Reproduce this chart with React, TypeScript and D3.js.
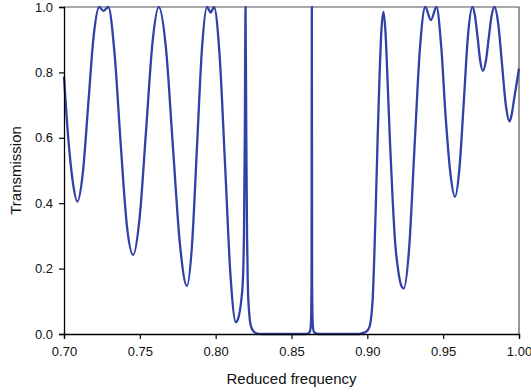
import React, { useEffect, useRef } from 'react'
import * as d3 from 'd3'

// reduced frequency (x) and transmission (y)
const freq = [
  0.7000, 0.7028, 0.7058, 0.7088,
  0.7124, 0.7160, 0.7196, 0.7232, 0.7259, 0.7292,
  0.7333, 0.7374, 0.7415, 0.7456,
  0.7498, 0.7541, 0.7583, 0.7625,
  0.7672, 0.7718, 0.7765, 0.7811,
  0.7844, 0.7877, 0.7910, 0.7943, 0.7967, 0.7989,
  0.8025, 0.8062, 0.8098, 0.8134,
  0.8150, 0.8169, 0.8180, 0.8187, 0.8192, 0.8197, 0.8202, 0.8207, 0.8212, 0.8220, 0.8235, 0.8260, 0.8300,
  0.8500, 0.8600, 0.8620, 0.8628, 0.8632, 0.8634, 0.8636, 0.8640, 0.8648, 0.8680,
  0.8950, 0.8960, 0.8990, 0.9013, 0.9025, 0.9035, 0.9046, 0.9057, 0.9068, 0.9079, 0.9093, 0.9107,
  0.9120, 0.9134, 0.9150, 0.9167, 0.9185, 0.9205, 0.9222, 0.9240,
  0.9276, 0.9311, 0.9347, 0.9382, 0.9419, 0.9456,
  0.9487, 0.9517, 0.9548, 0.9578,
  0.9607, 0.9636, 0.9664, 0.9693,
  0.9710, 0.9728, 0.9745, 0.9762,
  0.9781, 0.9800, 0.9819, 0.9838,
  0.9863, 0.9888, 0.9913, 0.9938,
  0.9952, 0.9967, 1.0000,
]
const transmission = [
  0.787, 0.600, 0.465, 0.405,
  0.492, 0.703, 0.913, 1.000, 0.988, 1.000,
  0.860, 0.580, 0.330, 0.242,
  0.353, 0.621, 0.889, 1.000,
  0.875, 0.574, 0.272, 0.147,
  0.272, 0.574, 0.875, 1.000, 0.983, 1.000,
  0.859, 0.518, 0.177, 0.036,
  0.050, 0.104, 0.170, 0.320, 0.600, 1.000, 0.600, 0.300, 0.150, 0.070, 0.020, 0.004, 0.000,
  0.000, 0.000, 0.006, 0.030, 0.150, 1.000, 0.150, 0.030, 0.006, 0.000,
  0.000, 0.002, 0.006, 0.020, 0.050, 0.104, 0.240, 0.410, 0.600, 0.767, 0.930, 0.985,
  0.920, 0.767, 0.580, 0.410, 0.270, 0.190, 0.150, 0.139,
  0.265, 0.570, 0.874, 1.000, 0.960, 1.000,
  0.880, 0.660, 0.490, 0.420,
  0.505, 0.710, 0.915, 1.000,
  0.972, 0.903, 0.833, 0.805,
  0.833, 0.903, 0.972, 1.000,
  0.949, 0.825, 0.701, 0.650,
  0.672, 0.716, 0.812,
]
const xTicks = [0.70, 0.75, 0.80, 0.85, 0.90, 0.95, 1.00]
const yTicks = [0.0, 0.2, 0.4, 0.6, 0.8, 1.0]

export default function App() {
  const svgRef = useRef<SVGSVGElement>(null)

  useEffect(() => {
    const width = 531
    const height = 392
    const m = { left: 64, right: 12, top: 7, bottom: 58 }
    const x0 = m.left, x1 = width - m.right
    const y0 = height - m.bottom, y1 = m.top

    const svg = d3.select(svgRef.current)
    svg.selectAll('*').remove()

    const xScale = d3.scaleLinear().domain([0.7, 1.0]).range([x0, x1])
    const yScale = d3.scaleLinear().domain([0, 1]).range([y0, y1])

    const font = 'Arial, "Liberation Sans", sans-serif'

    // frame top + right
    svg.append('path')
      .attr('d', `M${x0},${y1}H${x1}V${y0}`)
      .attr('fill', 'none')
      .attr('stroke', '#555')
      .attr('stroke-width', 1.2)

    // the spectrum
    const pts: [number, number][] = freq.map((f, i) => [f, transmission[i]])
    const line = d3.line<[number, number]>()
      .x(d => xScale(d[0]))
      .y(d => yScale(d[1]))
      .curve(d3.curveMonotoneX)

    svg.append('path')
      .datum(pts)
      .attr('d', line)
      .attr('fill', 'none')
      .attr('stroke', '#3141a6')
      .attr('stroke-width', 2.3)
      .attr('stroke-linejoin', 'round')

    //axes
    const xAxis = d3.axisBottom(xScale).tickValues(xTicks).tickFormat(d3.format('.2f')).tickSize(5).tickPadding(8)
    const yAxis = d3.axisLeft(yScale).tickValues(yTicks).tickFormat(d3.format('.1f')).tickSize(5).tickPadding(6)

    const gx = svg.append('g').attr('transform', `translate(0,${y0})`).call(xAxis)
    const gy = svg.append('g').attr('transform', `translate(${x0},0)`).call(yAxis)
    for (const g of [gx, gy]) {
      g.select('.domain').attr('stroke', '#000').attr('stroke-width', 1.3)
      g.selectAll('.tick line').attr('stroke', '#000').attr('stroke-width', 1.2)
      g.selectAll('.tick text').attr('fill', '#111').style('font-family', font).style('font-size', '13px')
    }

    svg.append('text')
      .attr('x', (x0 + x1) / 2)
      .attr('y', 384)
      .attr('text-anchor', 'middle')
      .style('font-family', font)
      .style('font-size', '15px')
      .attr('fill', '#111')
      .text('Reduced frequency')

    svg.append('text')
      .attr('transform', `translate(21,${(y0 + y1) / 2}) rotate(-90)`)
      .attr('text-anchor', 'middle')
      .style('font-family', font)
      .style('font-size', '15px')
      .attr('fill', '#111')
      .text('Transmission')
  }, [])

  return (
    <svg ref={svgRef} width={531} height={392}
      style={{ position: 'absolute', left: 0, top: 0, background: '#fff' }} />
  )
}
